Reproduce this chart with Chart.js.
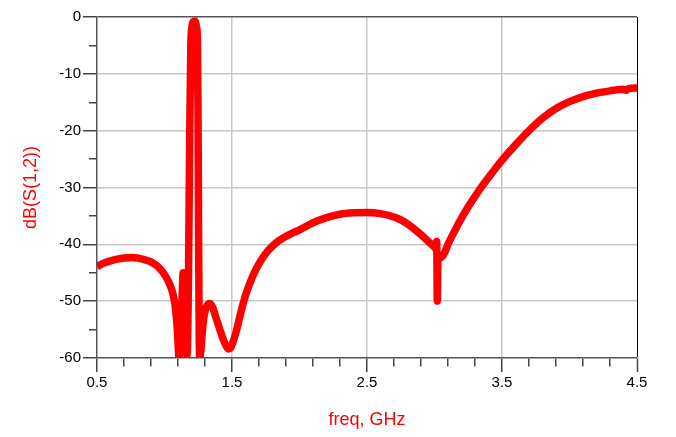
<!DOCTYPE html>
<html>
<head>
<meta charset="utf-8">
<script src="https://cdn.jsdelivr.net/npm/chart.js@4.4.1/dist/chart.umd.min.js"></script>
<style>
html, body { margin: 0; padding: 0; background: #ffffff; }
#c { display: block; }
</style>
</head>
<body>
<canvas id="c" width="676" height="437"></canvas>
<script>
// ---- data ----
const freqGHz = [
  0.5, 0.55, 0.6, 0.65, 0.7, 0.75, 0.8, 0.85, 0.9, 0.95,
  1.0, 1.03, 1.06, 1.08, 1.095, 1.108, 1.118, 1.13, 1.138, 1.148,
  1.167, 1.178, 1.187, 1.195, 1.203, 1.213, 1.225, 1.236, 1.244, 1.249,
  1.254, 1.26, 1.268, 1.28, 1.295, 1.315, 1.337, 1.36, 1.38, 1.4,
  1.43, 1.455, 1.475, 1.49, 1.51, 1.535, 1.56, 1.6, 1.65, 1.7,
  1.75, 1.8, 1.85, 1.9, 1.95, 2.0, 2.1, 2.2, 2.3, 2.4,
  2.5, 2.6, 2.7, 2.75, 2.8, 2.85, 2.9, 2.95, 3.0, 3.012,
  3.016, 3.021, 3.026, 3.04, 3.06, 3.08, 3.1, 3.15, 3.2, 3.25,
  3.3, 3.35, 3.4, 3.45, 3.5, 3.6, 3.7, 3.8, 3.9, 4.0,
  4.1, 4.2, 4.3, 4.4, 4.42, 4.435, 4.5
];
const s12dB = [
  -43.9, -43.3, -42.9, -42.6, -42.4, -42.3, -42.4, -42.7, -43.1, -43.9,
  -45.3, -46.6, -48.5, -51.0, -55.0, -60.0, -58.0, -50.0, -45.0, -50.0,
  -59.5, -45.0, -20.0, -5.0, -1.8, -0.8, -0.7, -1.6, -4.0, -20.0,
  -45.0, -60.0, -59.0, -55.5, -52.3, -50.8, -50.4, -51.3, -52.8, -54.3,
  -56.4, -57.8, -58.4, -58.2, -57.0, -55.0, -52.5, -49.0, -45.8, -43.4,
  -41.6, -40.3, -39.3, -38.6, -38.0, -37.45, -36.2, -35.3, -34.7, -34.45,
  -34.4, -34.6, -35.2, -35.7, -36.4, -37.3, -38.3, -39.4, -40.5, -40.8,
  -39.5, -50.0, -42.0, -42.4, -42.1, -41.2, -40.0, -37.6, -35.4, -33.4,
  -31.55, -29.85, -28.25, -26.7, -25.2, -22.5, -20.0, -17.8, -16.1, -14.9,
  -14.0, -13.4, -13.0, -12.7, -12.9, -12.6, -12.5
];
const xTickValues = [0.5, 0.7, 0.9, 1.1, 1.3, 1.5, 1.7, 1.9, 2.1, 2.3, 2.5, 2.7, 2.9, 3.1, 3.3, 3.5, 3.7, 3.9, 4.1, 4.3, 4.5];
const xLabelValues = [0.5, 1.5, 2.5, 3.5, 4.5];
const yTickValues = [0, -5, -10, -15, -20, -25, -30, -35, -40, -45, -50, -55, -60];
const yLabelValues = [0, -10, -20, -30, -40, -50, -60];
const xTitle = 'freq, GHz';
const yTitle = 'dB(S(1,2))';

// ---- chart ----
const near = (a, b) => Math.abs(a - b) < 1e-6;
const isIn = (arr, v) => arr.some(m => near(m, v));
const FONT = "'Liberation Sans', Arial, sans-serif";
const GRID = '#c8c8c8';
const NONE = 'rgba(0,0,0,0)';
const points = freqGHz.map((f, i) => ({ x: f, y: s12dB[i] }));

new Chart(document.getElementById('c'), {
  type: 'line',
  data: {
    datasets: [{
      data: points,
      borderColor: '#ff0000',
      backgroundColor: '#ff0000',
      borderWidth: 7.5,
      pointRadius: 0,
      cubicInterpolationMode: 'monotone',
      fill: false,
      borderJoinStyle: 'round',
      borderCapStyle: 'butt'
    }]
  },
  options: {
    responsive: false,
    animation: false,
    devicePixelRatio: 1,
    layout: { padding: { top: 17, right: 39, bottom: 0, left: 0 } },
    plugins: { legend: { display: false }, tooltip: { enabled: false } },
    scales: {
      x: {
        type: 'linear',
        min: 0.5,
        max: 4.5,
        afterBuildTicks: s => { s.ticks = xTickValues.map(v => ({ value: v })); },
        afterFit: s => { s.height = 79; },
        ticks: {
          autoSkip: false,
          maxRotation: 0,
          minRotation: 0,
          padding: 2,
          color: '#000000',
          font: { family: FONT, size: 15 },
          callback: v => isIn(xLabelValues, v) ? String(v) : ''
        },
        grid: {
          color: c => {
            const v = c.tick ? c.tick.value : null;
            if (v === null) return NONE;
            if (near(v, 4.5)) return '#000000';
            if (near(v, 0.5)) return NONE;
            return isIn(xLabelValues, v) ? GRID : NONE;
          },
          lineWidth: c => (c.tick && near(c.tick.value, 4.5)) ? 1 : 1.5,
          tickLength: 14,
          tickColor: '#444444',
          tickWidth: 1.5,
          tickBorderDash: c => (c.tick && isIn(xLabelValues, c.tick.value)) ? [] : [8, 100]
        },
        border: { display: true, color: '#555555', width: 1.5 },
        title: {
          display: true,
          text: xTitle,
          color: '#ff0000',
          font: { family: FONT, size: 18 },
          padding: { top: 0, bottom: 6 }
        }
      },
      y: {
        type: 'linear',
        min: -60,
        max: 0,
        afterBuildTicks: s => { s.ticks = yTickValues.map(v => ({ value: v })); },
        afterFit: s => { s.width = 97; },
        ticks: {
          autoSkip: false,
          padding: 2,
          color: '#000000',
          font: { family: FONT, size: 15 },
          callback: v => isIn(yLabelValues, v) ? String(v) : ''
        },
        grid: {
          color: c => {
            const v = c.tick ? c.tick.value : null;
            if (v === null) return NONE;
            if (near(v, 0)) return '#555555';
            if (near(v, -60)) return NONE;
            return isIn(yLabelValues, v) ? GRID : NONE;
          },
          lineWidth: 1.5,
          tickLength: 14,
          tickColor: '#444444',
          tickWidth: 1.5,
          tickBorderDash: c => (c.tick && isIn(yLabelValues, c.tick.value)) ? [] : [0, 6, 8, 100]
        },
        border: { display: true, color: '#555555', width: 1.5 },
        title: {
          display: true,
          text: yTitle,
          color: '#ff0000',
          font: { family: FONT, size: 18 },
          padding: { top: 20, bottom: 0 }
        }
      }
    }
  }
});
</script>
</body>
</html>
